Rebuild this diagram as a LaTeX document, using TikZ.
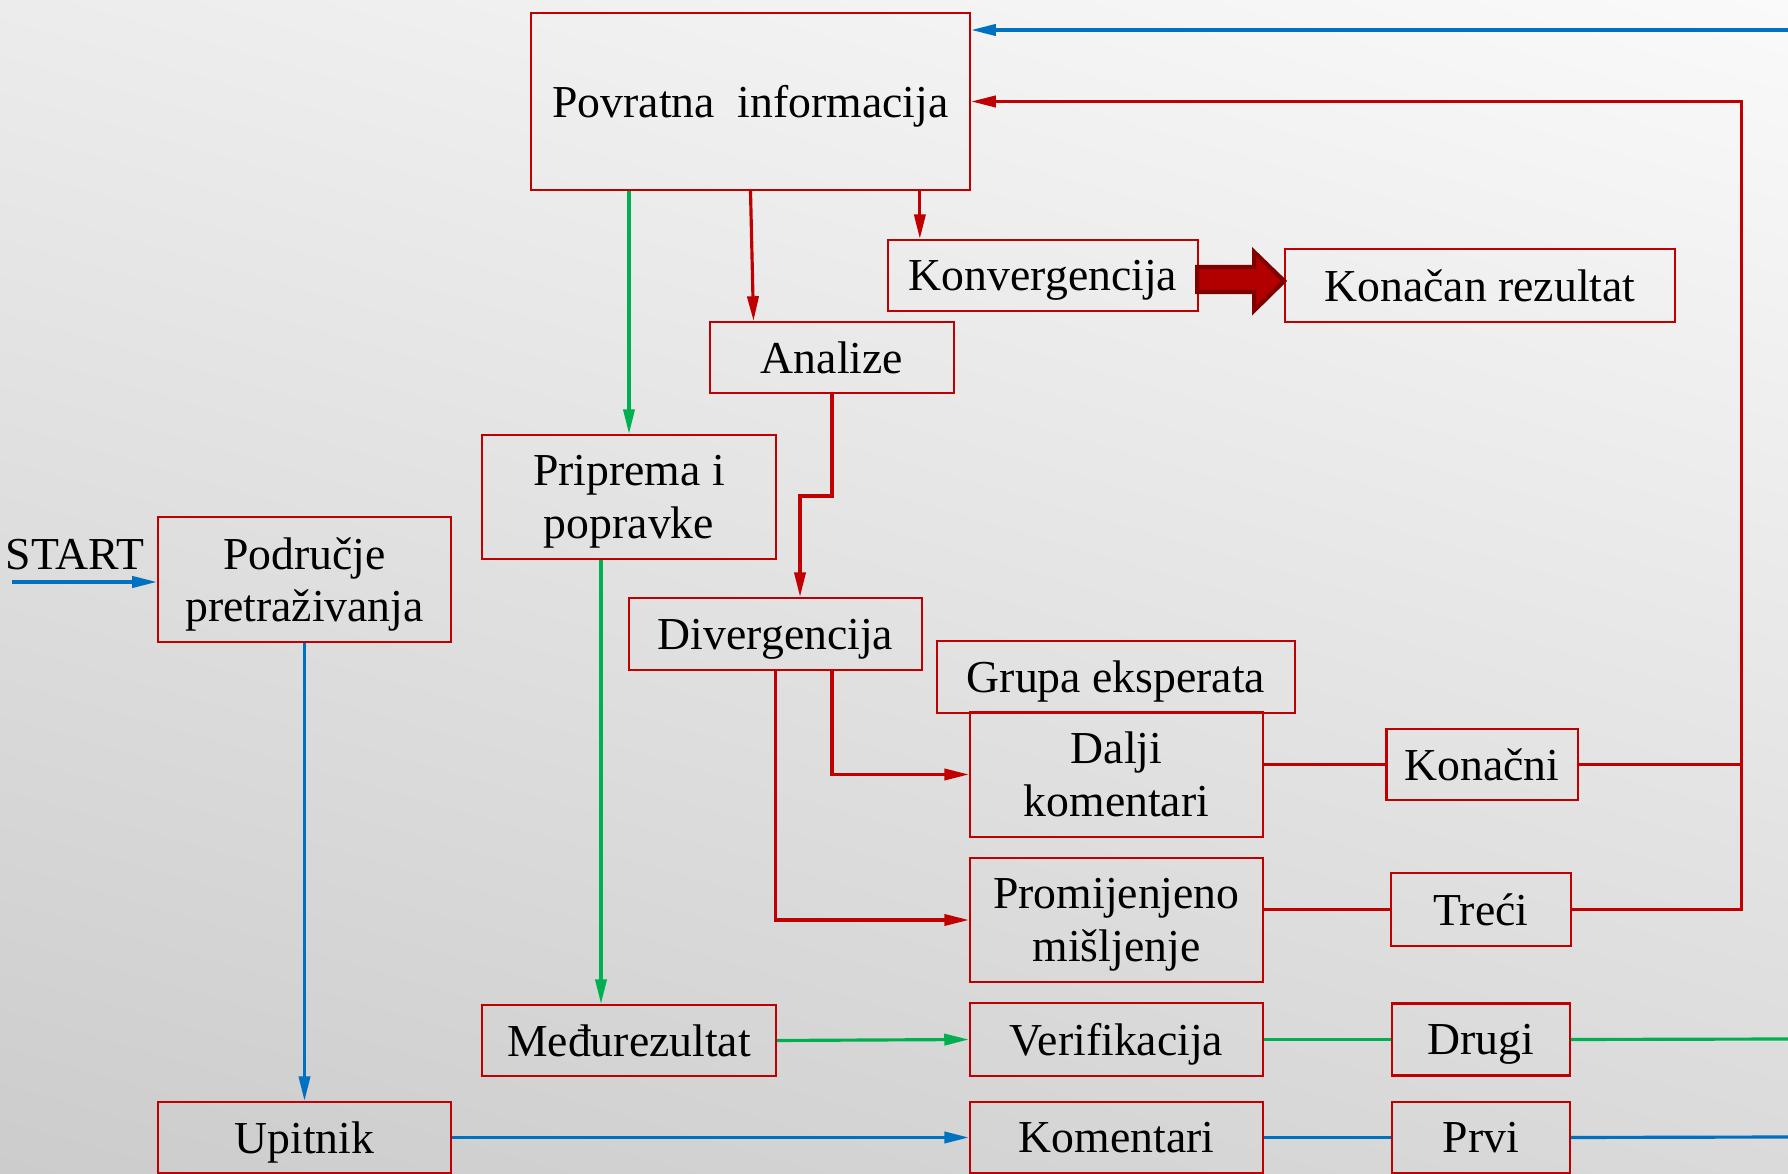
\documentclass[tikz,border=0pt]{standalone}
\usepackage{fontspec}
\setmainfont{Liberation Serif}
\usetikzlibrary{arrows.meta,calc,shadings}

\definecolor{boxred}{RGB}{192,0,0}
\definecolor{lineblue}{RGB}{0,112,192}
\definecolor{linegreen}{RGB}{0,176,80}
\definecolor{bigred}{RGB}{178,0,0}
\definecolor{bigdark}{RGB}{128,0,0}
\definecolor{bgul}{RGB}{236,236,236}
\definecolor{bgur}{RGB}{250,250,250}
\definecolor{bgll}{RGB}{204,204,204}
\definecolor{bglr}{RGB}{218,218,218}

\tikzset{
  box/.style={draw=boxred, line width=0.6pt, inner sep=0pt, align=center,
    text depth=0pt, font=\fontsize{13}{15}\selectfont},
  lbl/.style={inner sep=0pt, font=\fontsize{13}{15}\selectfont},
  tipend/.style={-{Triangle[length=7pt,width=3.2pt]}},
  redln/.style={draw=boxred, line width=0.9pt},
  greenln/.style={draw=linegreen, line width=0.9pt},
  blueln/.style={draw=lineblue, line width=0.9pt},
  redarr/.style={redln, tipend},
  greenarr/.style={greenln, tipend},
  bluearr/.style={blueln, tipend},
  bigarr/.style={fill=bigred, draw=bigdark, line width=1.2pt, line join=miter}
}

\begin{document}
\begin{tikzpicture}[x=0.01cm, y=-0.01cm]%
% background
\shade[upper left=bgul, upper right=bgur, lower left=bgll, lower right=bglr] (0,0) rectangle (1788,1174);%
\useasboundingbox (0,0) rectangle (1788,1174);%
% boxes
\node[box, minimum width=4.39cm, minimum height=1.77cm] (pov) at (750.5,101.5) {Povratna\ \ informacija};%
\node[box, minimum width=3.10cm, minimum height=0.71cm] (knv) at (1043,275.5) {Konvergencija};%
\node[box, minimum width=3.90cm, minimum height=0.73cm] (kr) at (1480,285.5) {Konačan rezultat};%
\node[box, minimum width=2.44cm, minimum height=0.71cm] (ana) at (832,357.5) {Analize};%
\node[box, minimum width=2.94cm, minimum height=1.24cm] (pri) at (629,497) {Priprema i\\popravke};%
\node[box, minimum width=2.93cm, minimum height=1.25cm] (pod) at (304.5,579.5) {Područje\\pretraživanja};%
\node[box, minimum width=2.93cm, minimum height=0.72cm] (div) at (775.5,634) {Divergencija};%
\node[box, minimum width=3.58cm, minimum height=0.72cm] (gru) at (1116,677) {Grupa eksperata};%
\node[box, minimum width=2.93cm, minimum height=1.25cm] (dal) at (1116.5,774.5) {Dalji\\komentari};%
\node[box, minimum width=2.93cm, minimum height=1.24cm] (pro) at (1116.5,920) {Promijenjeno\\mišljenje};%
\node[box, minimum width=1.91cm, minimum height=0.71cm] (kon) at (1482,764.5) {Konačni};%
\node[box, minimum width=1.80cm, minimum height=0.73cm] (tre) at (1481,909.5) {Treći};%
\node[box, minimum width=2.94cm, minimum height=0.71cm] (med) at (629,1040.5) {Međurezultat};%
\node[box, minimum width=2.93cm, minimum height=0.73cm] (ver) at (1116.5,1039.5) {Verifikacija};%
\node[box, minimum width=1.78cm, minimum height=0.72cm] (dru) at (1481,1039.5) {Drugi};%
\node[box, minimum width=2.93cm, minimum height=0.71cm] (upi) at (304.5,1137.5) {Upitnik};%
\node[box, minimum width=2.93cm, minimum height=0.71cm] (kom) at (1116.5,1137.5) {Komentari};%
\node[box, minimum width=1.78cm, minimum height=0.71cm] (prv) at (1481,1137.5) {Prvi};%
\node[lbl] (start) at (75,555) {START};%
% helper points
\coordinate (s0) at (12,582);%
\coordinate (etop) at (1788,30);%
\coordinate (egreen) at (1788,1039);%
\coordinate (eblue) at (1788,1137);%
\coordinate (rc) at ($(tre.east)+(169,0)$);%
\coordinate (knvin) at ($(knv.north west)+(33,0)$);%
\coordinate (divin) at ($(div.north)+(24.5,0)$);%
\coordinate (pm) at ($(pri.south)+(-28,0)$);%
% feedback loops
\draw[bluearr] (etop) -- (etop -| pov.east);%
\draw[redarr] (tre.east) -- (rc) |- (pov.east);%
\draw[redln] (kon.east) -- (kon.east -| rc);%
% from feedback
\draw[redarr] (pov.south) -- ($(pov.south |- ana.north)+(3,0)$);%
\draw[redarr] (pov.south -| knvin) -- (knvin);%
\draw[greenarr] (pov.south -| pri.north) -- (pri.north);%
\filldraw[bigarr] ($(knv.east)+(-2,-8.5)$) -- ++(57,0) -- ++(0,-15) -- ($(knv.east)+(85,5.5)$)
  -- ($(knv.east)+(55,35)$) -- ++(0,-18.5) -- ($(knv.east)+(-2,16.5)$) -- cycle;%
% divergence branch
\draw[redarr] (ana.south) -- ++(0,102) -| (divin);%
\draw[redarr] (div.south -| ana.south) |- (dal.west);%
\draw[redarr] (div.south) |- (pro.west);%
\draw[redln] (kon.west -| dal.east) -- (kon.west);%
\draw[redln] (tre.west -| pro.east) -- (tre.west);%
% green round
\draw[greenarr] (pm) -- (pm |- med.north);%
\draw[greenarr] (med.east) -- (ver.west);%
\draw[greenln] (ver.east) -- (dru.west);%
\draw[greenln] (dru.east) -- (egreen);%
% blue round
\draw[bluearr] (s0) -- (s0 -| pod.west);%
\draw[bluearr] (pod.south) -- (upi.north);%
\draw[bluearr] (upi.east) -- (kom.west);%
\draw[blueln] (kom.east) -- (prv.west);%
\draw[blueln] (prv.east) -- (eblue);%
\end{tikzpicture}
\end{document}
